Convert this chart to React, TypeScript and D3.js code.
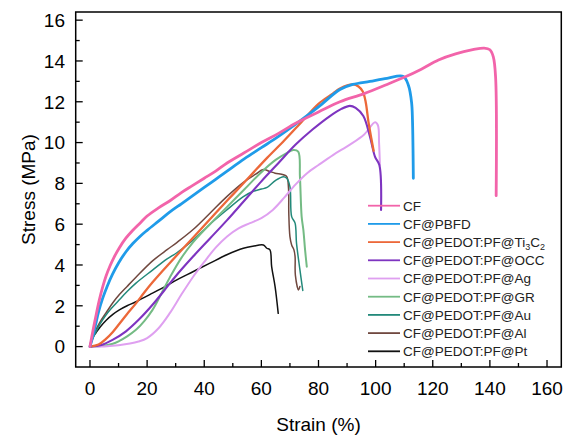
import React from "react";
import * as d3 from "d3";

const seriesNames = [
  "CF",
  "CF@PBFD",
  "CF@PEDOT:PF@Ti3C2",
  "CF@PEDOT:PF@OCC",
  "CF@PEDOT:PF@Ag",
  "CF@PEDOT:PF@GR",
  "CF@PEDOT:PF@Au",
  "CF@PEDOT:PF@Al",
  "CF@PEDOT:PF@Pt",
];
const seriesColors = ["#f264aa", "#1f9be9", "#ec6839", "#7e34c0", "#dfa0f0", "#74bb84", "#23897a", "#70483f", "#111111"];
const seriesWidths = [2.8, 2.8, 2.3, 2.1, 2.0, 2.0, 1.5, 1.5, 1.5];

const cfData: [number, number][] = [[0,0],[1,0.75],[2,1.45],[3.3,2.3],[4.5,2.95],[5.6,3.45],[7,3.95],[8.5,4.4],[10.3,4.85],[12.5,5.3],[15,5.7],[17.5,6.05],[20,6.4],[24,6.8],[28,7.15],[32,7.55],[36,7.9],[40,8.25],[44,8.6],[48,9.0],[54,9.5],[60,10.0],[66,10.45],[72,10.95],[80,11.5],[87.5,12.0],[96,12.4],[104,12.85],[110,13.2],[116,13.6],[122,14.05],[128,14.35],[134,14.55],[138,14.63],[140,14.55],[141.2,14.2],[142,13.2],[142.2,7.4]];
const pbfdData: [number, number][] = [[0,0],[1,0.5],[2,1.1],[3,1.7],[4.4,2.35],[6,2.95],[7.9,3.55],[10,4.1],[12.6,4.65],[15,5.05],[17.5,5.4],[20,5.7],[24,6.15],[28,6.6],[32,7.0],[36,7.4],[40,7.8],[44,8.2],[48,8.6],[54,9.2],[60,9.75],[66,10.3],[72,10.9],[80,11.75],[87.5,12.6],[92,12.85],[98,13.0],[104,13.15],[109.7,13.24],[111.5,12.8],[112.6,11.95],[112.9,11.1],[113.2,8.25]];
const ti3c2Data: [number, number][] = [[0,0],[3,0.1],[5.6,0.38],[8,0.72],[10.3,1.12],[13,1.6],[16.1,2.12],[19,2.65],[21.9,3.15],[25.7,3.75],[32,4.72],[38,5.63],[44,6.55],[50,7.45],[56,8.35],[62,9.25],[68,10.1],[74,11.0],[80,11.9],[85,12.4],[87.5,12.65],[92,12.85],[94,12.75],[95.5,12.5],[96.5,12.0],[97.5,11.0],[98.5,10.2],[99.3,9.6]];
const occData: [number, number][] = [[0,0],[4,0.08],[7.9,0.33],[12.6,0.75],[17.3,1.35],[21.9,2.05],[26,2.75],[30,3.45],[36,4.4],[42,5.3],[48,6.2],[54,7.15],[60,8.1],[66,9.0],[72,9.9],[78,10.65],[84,11.3],[88,11.65],[91,11.8],[93,11.7],[95.7,11.3],[98,10.3],[99.8,9.3],[101.3,8.9],[101.9,6.7]];
const agData: [number, number][] = [[0,0],[6,0.02],[10,0.07],[14,0.15],[17,0.25],[20,0.42],[24,0.9],[28,1.65],[32,2.55],[36,3.4],[40,4.15],[44,4.85],[48,5.4],[52,5.8],[56,6.05],[60,6.3],[64,6.7],[68,7.3],[72,7.95],[76,8.5],[80,8.9],[85.2,9.4],[91,9.9],[96,10.4],[99.8,11.0],[100.8,10.85],[101.2,10.0],[101.5,8.9]];
const grData: [number, number][] = [[0,0],[4,0.03],[8,0.14],[10.3,0.28],[13,0.5],[16.1,0.82],[19,1.25],[21.9,1.8],[25,2.6],[28,3.4],[32,4.35],[36,5.1],[42,6.0],[48,6.85],[54,7.7],[60,8.55],[65,9.15],[69,9.5],[71.2,9.64],[72.9,9.56],[73.5,8.33],[74.1,6.37],[74.7,5.72],[75.3,4.74],[75.9,3.92]];
const auData: [number, number][] = [[0,0],[1,0.4],[2,0.7],[3.5,1.1],[5.6,1.55],[8,1.95],[10.3,2.3],[13,2.7],[16,3.1],[21.9,3.75],[27,4.3],[30.4,4.6],[36.2,5.23],[42,6.0],[47.9,6.7],[53.7,7.35],[57,7.6],[60,7.72],[62,7.8],[65,8.15],[67.7,8.33],[68.9,8.25],[70,7.84],[70.6,6.37],[71.8,6.05],[72.3,5.07],[73.5,3.76],[74.5,2.75]];
const alData: [number, number][] = [[0,0],[1,0.45],[2,0.8],[3.5,1.2],[5.6,1.65],[8,2.15],[10.3,2.55],[13,2.95],[16.1,3.4],[21.9,4.2],[27,4.75],[30.4,5.1],[36.2,5.75],[42,6.54],[47.9,7.35],[53.7,8.05],[58,8.45],[60.7,8.68],[63,8.58],[64.8,8.5],[67.7,8.42],[68.9,8.33],[69.5,7.76],[69.6,6.54],[70,5.39],[70.6,4.98],[71.4,4.74],[71.8,4.41],[71.9,3.5],[73,2.78],[73.5,2.95]];
const ptData: [number, number][] = [[0,0],[0.5,0.3],[1,0.45],[2.1,0.68],[3.5,0.95],[5.6,1.28],[8,1.58],[10.3,1.8],[13,2.0],[16.1,2.2],[21.9,2.62],[27,3.0],[30.4,3.27],[36.2,3.68],[42,4.09],[47.9,4.5],[53.7,4.82],[57,4.92],[60.7,4.98],[61.9,4.82],[63,4.74],[63.6,3.92],[64.8,2.94],[65.9,1.63]];

const allData = [cfData, pbfdData, ti3c2Data, occData, agData, grData, auData, alData, ptData];

const xTicks = [0, 20, 40, 60, 80, 100, 120, 140, 160];
const xMinor = [10, 30, 50, 70, 90, 110, 130, 150];
const yTicks = [0, 2, 4, 6, 8, 10, 12, 14, 16];
const yMinor = [1, 3, 5, 7, 9, 11, 13, 15];

const FONT = "'Liberation Sans', Arial, sans-serif";

export default function App() {
  const W = 568, H = 443;
  const left = 75.7, right = 561.3, top = 12, bottom = 367;
  const x = d3.scaleLinear().domain([-5, 165]).range([left, right]);
  const y = d3.scaleLinear().domain([-1, 16.4]).range([bottom, top]);
  const line = d3.line<[number, number]>().x(d => x(d[0])).y(d => y(d[1])).curve(d3.curveCatmullRom.alpha(0.5));
  const drawOrder = [8, 7, 6, 5, 4, 3, 2, 1, 0];
  const legX = 368, legY = 205.7, legDy = 18.2;

  return (
    <div style={{ position: "fixed", left: 0, top: 0 }}>
      <svg width={W} height={H} style={{ display: "block", background: "#fff" }}>
        <g>
          {drawOrder.map(i => (
            <path key={i} d={line(allData[i]) || ""} fill="none" stroke={seriesColors[i]}
              strokeWidth={seriesWidths[i]} strokeLinejoin="round" strokeLinecap="round" />
          ))}
        </g>
        <rect x={left} y={top} width={right - left} height={bottom - top} fill="none" stroke="#000" strokeWidth={1.5} />
        {xTicks.map(t => (
          <g key={"xt" + t}>
            <line x1={x(t)} x2={x(t)} y1={bottom} y2={bottom - 7} stroke="#000" strokeWidth={1.3} />
            <text x={x(t)} y={395} textAnchor="middle" fontFamily={FONT} fontSize={19} fill="#000">{t}</text>
          </g>
        ))}
        {xMinor.map(t => (
          <line key={"xm" + t} x1={x(t)} x2={x(t)} y1={bottom} y2={bottom - 4} stroke="#000" strokeWidth={1.3} />
        ))}
        {yTicks.map(t => (
          <g key={"yt" + t}>
            <line x1={left} x2={left + 7} y1={y(t)} y2={y(t)} stroke="#000" strokeWidth={1.3} />
            <text x={65} y={y(t) + 6.8} textAnchor="end" fontFamily={FONT} fontSize={19} fill="#000">{t}</text>
          </g>
        ))}
        {yMinor.map(t => (
          <line key={"ym" + t} x1={left} x2={left + 4} y1={y(t)} y2={y(t)} stroke="#000" strokeWidth={1.3} />
        ))}
        <text x={(left + right) / 2} y={431} textAnchor="middle" fontFamily={FONT} fontSize={19} fill="#000">Strain (%)</text>
        <text transform={`translate(35,${(top + bottom) / 2}) rotate(-90)`} textAnchor="middle" fontFamily={FONT} fontSize={19} fill="#000">Stress (MPa)</text>
        {seriesNames.map((name, i) => {
          const cy = legY + i * legDy;
          return (
            <g key={"lg" + i}>
              <line x1={legX} x2={legX + 32} y1={cy} y2={cy} stroke={seriesColors[i]} strokeWidth={1.8} />
              <text x={legX + 35} y={cy + 4.8} fontFamily={FONT} fontSize={13.5} fill="#222">
                {name === "CF@PEDOT:PF@Ti3C2" ? (
                  <>
                    CF@PEDOT:PF@Ti<tspan fontSize={9} dy={3}>3</tspan><tspan dy={-3}>C</tspan><tspan fontSize={9} dy={3}>2</tspan>
                  </>
                ) : name}
              </text>
            </g>
          );
        })}
      </svg>
    </div>
  );
}
